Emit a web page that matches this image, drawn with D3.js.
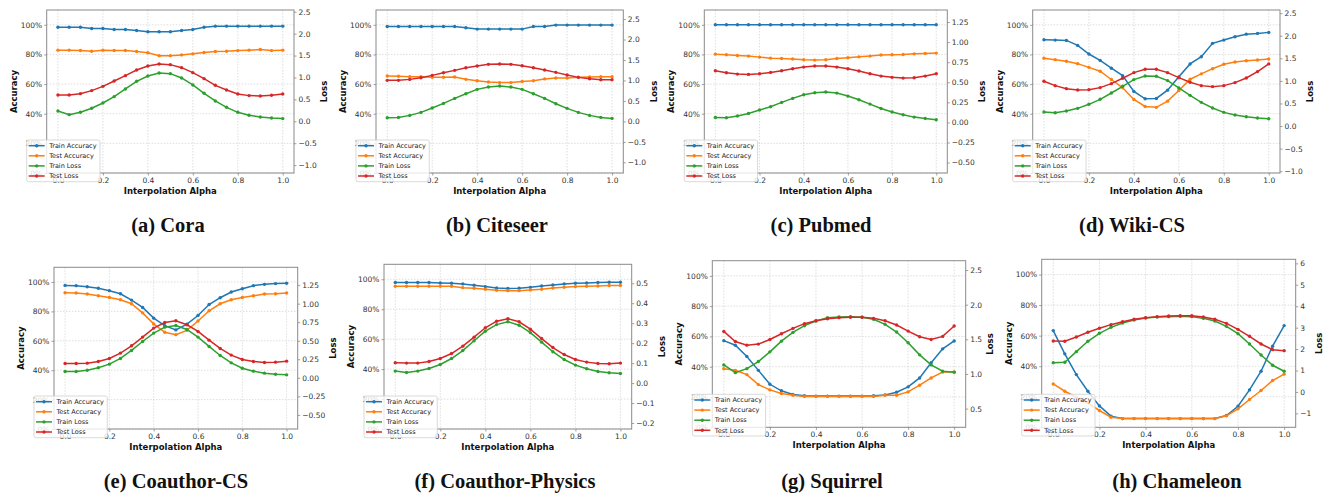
<!DOCTYPE html>
<html>
<head>
<meta charset="utf-8">
<script src="https://cdn.jsdelivr.net/npm/d3@7"></script>
<style>
  body { margin: 0; background: #fff; }
  svg { display: block; }
  text { font-family: "DejaVu Sans", sans-serif; }
</style>
</head>
<body>
<svg id="chart" width="1323" height="495"></svg>
<script>
// interpolation steps on the x axis
var alpha = [0, 0.05, 0.1, 0.15, 0.2, 0.25, 0.3, 0.35, 0.4, 0.45, 0.5,
             0.55, 0.6, 0.65, 0.7, 0.75, 0.8, 0.85, 0.9, 0.95, 1.0];
var alphaTicks = [0, 0.2, 0.4, 0.6, 0.8, 1.0];
var accTicks = [0, 20, 40, 60, 80, 100];
var seriesNames = ["Train Accuracy", "Test Accuracy", "Train Loss", "Test Loss"];
var seriesColors = ["#1f77b4", "#ff7f0e", "#2ca02c", "#d62728"];

// (a) Cora
var coraTrainAcc = [98.4, 98.4, 98.4, 97.5, 97.5, 96.8, 96.8, 96.2, 95.3, 95.3, 95.3, 96.2, 96.8, 98.4, 99.1, 99.1, 99.1, 99.1, 99.1, 99.1, 99.1];
var coraTestAcc = [82.9, 82.9, 82.7, 82.2, 82.9, 82.7, 82.7, 82.0, 81.1, 79.2, 79.2, 79.7, 80.4, 81.3, 82.0, 82.2, 82.6, 82.9, 83.3, 82.6, 82.9];
var coraTrainLoss = [0.236, 0.152, 0.205, 0.297, 0.418, 0.563, 0.738, 0.913, 1.034, 1.103, 1.087, 0.989, 0.829, 0.639, 0.464, 0.319, 0.205, 0.137, 0.099, 0.076, 0.061];
var coraTestLoss = [0.601, 0.601, 0.631, 0.700, 0.798, 0.920, 1.042, 1.171, 1.262, 1.308, 1.293, 1.224, 1.110, 0.973, 0.821, 0.715, 0.624, 0.586, 0.578, 0.593, 0.624];
var coraLossTicks = [-1.0, -0.5, 0.0, 0.5, 1.0, 1.5, 2.0, 2.5];

// (b) Citeseer
var citeseerTrainAcc = [98.9, 98.9, 98.9, 98.9, 98.9, 98.9, 98.9, 98.0, 97.1, 97.1, 97.1, 97.1, 97.1, 98.9, 98.9, 99.8, 99.8, 99.8, 99.8, 99.8, 99.8];
var citeseerTestAcc = [65.5, 65.3, 65.0, 65.0, 64.6, 64.6, 64.8, 63.2, 62.3, 61.4, 61.0, 61.0, 61.7, 62.3, 63.5, 64.1, 64.1, 64.6, 64.8, 65.0, 65.0];
var citeseerTrainLoss = [0.090, 0.098, 0.147, 0.220, 0.326, 0.440, 0.562, 0.676, 0.782, 0.839, 0.863, 0.839, 0.782, 0.676, 0.562, 0.432, 0.318, 0.220, 0.147, 0.098, 0.073];
var citeseerTestLoss = [1.002, 1.002, 1.026, 1.067, 1.124, 1.189, 1.246, 1.311, 1.352, 1.393, 1.401, 1.393, 1.360, 1.311, 1.254, 1.197, 1.132, 1.075, 1.042, 1.018, 1.018];
var citeseerLossTicks = [-1.0, -0.5, 0.0, 0.5, 1.0, 1.5, 2.0, 2.5];

// (c) Pubmed
var pubmedTrainAcc = [100, 100, 100, 100, 100, 100, 100, 100, 100, 100, 100, 100, 100, 100, 100, 100, 100, 100, 100, 100, 100];
var pubmedTestAcc = [80.2, 79.8, 79.3, 78.9, 78.2, 77.5, 77.3, 76.9, 76.4, 76.2, 76.4, 77.3, 77.8, 78.4, 78.9, 79.6, 79.8, 80.0, 80.4, 80.7, 80.9];
var pubmedTrainLoss = [0.062, 0.058, 0.079, 0.112, 0.154, 0.195, 0.249, 0.299, 0.345, 0.370, 0.378, 0.365, 0.328, 0.282, 0.228, 0.174, 0.129, 0.096, 0.066, 0.050, 0.033];
var pubmedTestLoss = [0.644, 0.619, 0.602, 0.598, 0.606, 0.623, 0.644, 0.669, 0.689, 0.702, 0.702, 0.689, 0.669, 0.640, 0.606, 0.577, 0.561, 0.552, 0.556, 0.577, 0.606];
var pubmedLossTicks = [-0.5, -0.25, 0.0, 0.25, 0.5, 0.75, 1.0, 1.25];

// (d) Wiki-CS
var wikiTrainAcc = [89.9, 89.7, 89.5, 86.1, 80.3, 76.0, 70.7, 65.7, 55.0, 50.1, 50.3, 55.9, 64.9, 73.6, 78.5, 87.5, 89.7, 91.9, 93.7, 94.2, 94.9];
var wikiTestAcc = [77.4, 76.5, 75.4, 73.8, 71.3, 68.7, 63.1, 57.5, 49.6, 44.9, 44.3, 48.5, 55.7, 63.3, 66.9, 70.4, 73.4, 74.9, 75.8, 76.3, 76.9];
var wikiTrainLoss = [0.311, 0.296, 0.333, 0.392, 0.481, 0.592, 0.732, 0.880, 1.028, 1.109, 1.102, 1.006, 0.843, 0.680, 0.525, 0.399, 0.303, 0.244, 0.207, 0.178, 0.163];
var wikiTestLoss = [0.991, 0.895, 0.828, 0.799, 0.806, 0.851, 0.939, 1.058, 1.183, 1.257, 1.257, 1.183, 1.072, 0.969, 0.895, 0.873, 0.895, 0.962, 1.065, 1.206, 1.376];
var wikiLossTicks = [-1.0, -0.5, 0.0, 0.5, 1.0, 1.5, 2.0, 2.5];

// (e) Coauthor-CS
var csTrainAcc = [97.7, 97.5, 96.8, 95.7, 94.1, 92.0, 87.7, 82.7, 75.4, 70.3, 67.4, 71.3, 77.2, 84.7, 89.3, 93.2, 95.4, 97.5, 98.4, 98.9, 99.1];
var csTestAcc = [92.7, 92.5, 91.8, 90.6, 89.5, 87.9, 85.2, 79.0, 71.5, 65.8, 64.2, 67.1, 73.5, 80.4, 85.2, 87.9, 89.5, 90.6, 91.8, 92.0, 92.5];
var csTrainLoss = [0.085, 0.085, 0.103, 0.135, 0.184, 0.261, 0.369, 0.490, 0.603, 0.683, 0.706, 0.652, 0.549, 0.423, 0.301, 0.202, 0.130, 0.090, 0.063, 0.049, 0.040];
var csTestLoss = [0.193, 0.193, 0.198, 0.220, 0.261, 0.333, 0.432, 0.549, 0.670, 0.746, 0.769, 0.715, 0.625, 0.508, 0.396, 0.306, 0.247, 0.220, 0.207, 0.211, 0.225];
var csLossTicks = [-0.5, -0.25, 0.0, 0.25, 0.5, 0.75, 1.0, 1.25];

// (f) Coauthor-Physics
var physTrainAcc = [97.8, 97.8, 97.8, 97.8, 97.5, 97.3, 96.9, 96.0, 95.1, 94.2, 93.8, 94.0, 94.6, 95.5, 96.2, 96.9, 97.3, 97.5, 97.8, 98.0, 98.0];
var physTestAcc = [95.3, 95.3, 95.3, 95.3, 95.3, 95.3, 94.4, 94.0, 93.3, 92.6, 92.4, 92.4, 92.9, 93.3, 94.2, 94.6, 95.1, 95.3, 95.5, 95.8, 95.8];
var physTrainLoss = [0.060, 0.053, 0.060, 0.073, 0.093, 0.123, 0.163, 0.212, 0.260, 0.293, 0.307, 0.290, 0.253, 0.205, 0.157, 0.118, 0.090, 0.072, 0.058, 0.052, 0.048];
var physTestLoss = [0.102, 0.100, 0.100, 0.108, 0.123, 0.148, 0.185, 0.230, 0.277, 0.310, 0.322, 0.307, 0.270, 0.223, 0.178, 0.143, 0.118, 0.105, 0.098, 0.097, 0.100];
var physLossTicks = [-0.2, -0.1, 0.0, 0.1, 0.2, 0.3, 0.4, 0.5];

// (g) Squirrel
var squirrelTrainAcc = [57.2, 54.2, 46.8, 37.6, 28.4, 24.1, 21.7, 20.8, 20.6, 20.6, 20.6, 20.6, 20.6, 20.8, 21.4, 23.2, 26.7, 32.6, 42.6, 51.8, 57.0];
var squirrelTestAcc = [38.7, 37.6, 34.8, 28.2, 24.7, 22.3, 21.2, 20.4, 20.4, 20.4, 20.4, 20.4, 20.4, 20.4, 21.2, 21.2, 23.4, 27.8, 32.6, 36.5, 36.5];
var squirrelTrainLoss = [1.131, 1.019, 1.077, 1.179, 1.319, 1.474, 1.600, 1.697, 1.764, 1.813, 1.822, 1.827, 1.818, 1.789, 1.716, 1.605, 1.450, 1.276, 1.131, 1.039, 1.024];
var squirrelTestLoss = [1.614, 1.469, 1.416, 1.431, 1.498, 1.581, 1.658, 1.726, 1.769, 1.798, 1.813, 1.818, 1.818, 1.803, 1.769, 1.706, 1.619, 1.537, 1.498, 1.542, 1.692];
var squirrelLossTicks = [0.5, 1.0, 1.5, 2.0, 2.5];

// (h) Chameleon
var chamTrainAcc = [63.3, 48.1, 34.5, 23.6, 14.0, 7.3, 5.7, 5.7, 5.7, 5.7, 5.7, 5.7, 5.7, 5.7, 5.7, 7.7, 13.8, 24.5, 36.7, 53.1, 66.6];
var chamTestAcc = [28.4, 23.6, 19.7, 16.0, 11.0, 6.6, 5.7, 5.7, 5.7, 5.7, 5.7, 5.7, 5.7, 5.7, 5.7, 7.5, 12.1, 18.2, 24.1, 30.6, 34.8];
var chamTrainLoss = [1.368, 1.383, 1.881, 2.363, 2.736, 3.016, 3.218, 3.358, 3.451, 3.498, 3.513, 3.529, 3.513, 3.435, 3.311, 3.062, 2.720, 2.238, 1.725, 1.244, 0.964];
var chamTestLoss = [2.378, 2.363, 2.565, 2.783, 2.969, 3.140, 3.280, 3.389, 3.466, 3.513, 3.544, 3.560, 3.560, 3.498, 3.389, 3.202, 2.922, 2.596, 2.238, 1.974, 1.928];
var chamLossTicks = [-1, 0, 1, 2, 3, 4, 5, 6];

var panels = [
  {cap: "(a) Cora", box: [46.7, 10, 294, 173], loss: [-1.18, 2.54], fmt: ".1f", capX: 168, capY: 231.5,
   series: [coraTrainAcc, coraTestAcc, coraTrainLoss, coraTestLoss], ticks: coraLossTicks},
  {cap: "(b) Citeseer", box: [376, 10, 623.3, 173], loss: [-1.26, 2.72], fmt: ".1f", capX: 497, capY: 231.5,
   series: [citeseerTrainAcc, citeseerTestAcc, citeseerTrainLoss, citeseerTestLoss], ticks: citeseerLossTicks},
  {cap: "(c) Pubmed", box: [704.3, 10, 947.3, 173], loss: [-0.63, 1.40], fmt: ".2f", capX: 821, capY: 231.5,
   series: [pubmedTrainAcc, pubmedTestAcc, pubmedTrainLoss, pubmedTestLoss], ticks: pubmedLossTicks},
  {cap: "(d) Wiki-CS", box: [1032.7, 10, 1280, 173], loss: [-1.04, 2.57], fmt: ".1f", capX: 1132, capY: 231.5,
   series: [wikiTrainAcc, wikiTestAcc, wikiTrainLoss, wikiTestLoss], ticks: wikiLossTicks},
  {cap: "(e) Coauthor-CS", box: [54, 267.3, 297.7, 429], loss: [-0.69, 1.49], fmt: ".2f", capX: 176, capY: 488,
   series: [csTrainAcc, csTestAcc, csTrainLoss, csTestLoss], ticks: csLossTicks},
  {cap: "(f) Coauthor-Physics", box: [384, 264.3, 631.7, 429], loss: [-0.23, 0.595], fmt: ".1f", capX: 505, capY: 488,
   series: [physTrainAcc, physTestAcc, physTrainLoss, physTestLoss], ticks: physLossTicks},
  {cap: "(g) Squirrel", box: [712.3, 260.7, 965.7, 427.3], loss: [0.23, 2.635], fmt: ".1f", capX: 832, capY: 488,
   series: [squirrelTrainAcc, squirrelTestAcc, squirrelTrainLoss, squirrelTestLoss], ticks: squirrelLossTicks},
  {cap: "(h) Chameleon", box: [1041.7, 259.3, 1295.7, 427.3], loss: [-1.65, 6.19], fmt: "d", capX: 1177, capY: 488,
   series: [chamTrainAcc, chamTestAcc, chamTrainLoss, chamTestLoss], ticks: chamLossTicks}
];

var svg = d3.select("#chart");
svg.append("rect").attr("width", 1323).attr("height", 495).attr("fill", "#fff");

var TICK_FS = 7.5, LABEL_FS = 8.5, LEGEND_FS = 6.5;

function styleAxis(sel) {
  sel.select(".domain").remove();
  sel.selectAll(".tick line").attr("stroke", "#888").attr("stroke-width", 0.8);
  sel.selectAll(".tick text").attr("fill", "#333").style("font-size", TICK_FS + "px")
    .style("font-family", "DejaVu Sans, sans-serif");
}

function drawPanel(p) {
  var L = p.box[0], T = p.box[1], R = p.box[2], B = p.box[3];
  var g = svg.append("g");
  var x = d3.scaleLinear().domain([-0.05, 1.05]).range([L, R]);
  var yAcc = d3.scaleLinear().domain([0, 110]).range([B, T]);
  var yLoss = d3.scaleLinear().domain(p.loss).range([B, T]);

  // grid
  var grid = g.append("g").attr("stroke", "#d0d0d0").attr("stroke-width", 0.7).attr("stroke-dasharray", "1.5,1.5");
  grid.selectAll("line.vx").data(alphaTicks).enter().append("line")
    .attr("x1", x).attr("x2", x).attr("y1", T).attr("y2", B);
  grid.selectAll("line.hy").data(accTicks).enter().append("line")
    .attr("x1", L).attr("x2", R).attr("y1", yAcc).attr("y2", yAcc);

  // series: first two on accuracy axis, last two on loss axis
  p.series.forEach(function(vals, i) {
    var y = i < 2 ? yAcc : yLoss;
    var pts = vals.map(function(v, j) { return [alpha[j], v]; });
    var line = d3.line().x(function(d) { return x(d[0]); }).y(function(d) { return y(d[1]); });
    var s = g.append("g");
    s.append("path").datum(pts).attr("d", line).attr("fill", "none")
      .attr("stroke", seriesColors[i]).attr("stroke-width", 1.5);
    s.selectAll("circle").data(pts).enter().append("circle")
      .attr("cx", function(d) { return x(d[0]); })
      .attr("cy", function(d) { return y(d[1]); })
      .attr("r", 1.7).attr("fill", seriesColors[i]);
  });

  // frame
  g.append("rect").attr("x", L).attr("y", T).attr("width", R - L).attr("height", B - T)
    .attr("fill", "none").attr("stroke", "#8a8a8a").attr("stroke-width", 1);

  // axes
  g.append("g").attr("transform", "translate(0," + B + ")")
    .call(d3.axisBottom(x).tickValues(alphaTicks).tickFormat(d3.format(".1f")).tickSize(2.5).tickPadding(2))
    .call(styleAxis);
  g.append("g").attr("transform", "translate(" + L + ",0)")
    .call(d3.axisLeft(yAcc).tickValues(accTicks).tickFormat(function(d) { return d + "%"; }).tickSize(2.5).tickPadding(2))
    .call(styleAxis);
  var rAx = g.append("g").attr("transform", "translate(" + R + ",0)")
    .call(d3.axisRight(yLoss).tickValues(p.ticks).tickFormat(d3.format(p.fmt)).tickSize(2.5).tickPadding(2))
    .call(styleAxis);

  // axis titles
  g.append("text").attr("x", (L + R) / 2).attr("y", B + 20.5).attr("text-anchor", "middle")
    .style("font-size", LABEL_FS + "px").style("font-weight", "bold").attr("fill", "#111")
    .text("Interpolation Alpha");
  var accX = L - 33 + 0.35 * LABEL_FS;
  g.append("text").attr("transform", "translate(" + accX + "," + ((T + B) / 2) + ") rotate(-90)")
    .attr("text-anchor", "middle").style("font-size", LABEL_FS + "px").style("font-weight", "bold")
    .attr("fill", "#111").text("Accuracy");
  var bb = rAx.node().getBBox();
  var lossX = R + bb.x + bb.width + 7.5 + 0.35 * LABEL_FS;
  g.append("text").attr("transform", "translate(" + lossX + "," + ((T + B) / 2) + ") rotate(-90)")
    .attr("text-anchor", "middle").style("font-size", LABEL_FS + "px").style("font-weight", "bold")
    .attr("fill", "#111").text("Loss");

  // legend, lower left, hanging over the tick labels
  var lw = 73.3, lh = 41.7;
  var lg = g.append("g").attr("transform", "translate(" + (L - 20) + "," + (B + 8.7 - lh) + ")");
  lg.append("rect").attr("width", lw).attr("height", lh).attr("rx", 2)
    .attr("fill", "#fff").attr("fill-opacity", 0.8).attr("stroke", "#cfcfcf").attr("stroke-width", 0.8);
  var rows = lg.selectAll("g.row").data(seriesNames).enter().append("g")
    .attr("transform", function(d, i) { return "translate(0," + (5.7 + i * 10.1) + ")"; });
  rows.append("line").attr("x1", 2).attr("x2", 18).attr("y1", 0).attr("y2", 0)
    .attr("stroke", function(d, i) { return seriesColors[i]; }).attr("stroke-width", 1.5);
  rows.append("circle").attr("cx", 10).attr("cy", 0).attr("r", 1.7)
    .attr("fill", function(d, i) { return seriesColors[i]; });
  rows.append("text").attr("x", 22.5).attr("y", 0).attr("dy", "0.35em")
    .style("font-size", LEGEND_FS + "px").attr("fill", "#222").text(function(d) { return d; });

  // caption
  svg.append("text").attr("x", p.capX).attr("y", p.capY).attr("text-anchor", "middle")
    .style("font-family", "Liberation Serif, serif").style("font-size", "20.5px").style("font-weight", "bold")
    .attr("fill", "#111").text(p.cap);
}

panels.forEach(drawPanel);
</script>
</body>
</html>
